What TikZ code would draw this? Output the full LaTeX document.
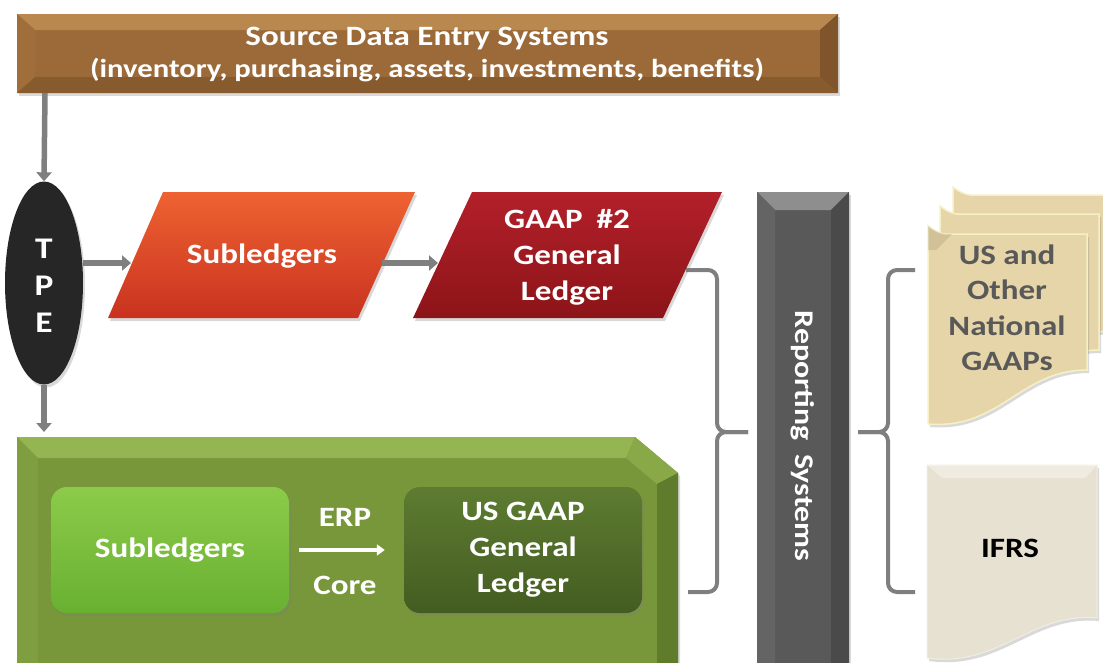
\documentclass[tikz,border=0pt]{standalone}
\usepackage{fontspec}
\setmainfont{Carlito}[FakeStretch=1.18]
\usetikzlibrary{shapes.geometric,arrows.meta,shadows}
\definecolor{brownface}{HTML}{9B6A38}
\definecolor{brownlight}{HTML}{B8884F}
\definecolor{browndark}{HTML}{7A5028}
\definecolor{orangetop}{HTML}{EE6232}
\definecolor{orangebot}{HTML}{C9331F}
\definecolor{redtop}{HTML}{B3202A}
\definecolor{redbot}{HTML}{8C1418}
\definecolor{barface}{HTML}{595959}
\definecolor{barlight}{HTML}{8E8E8E}
\definecolor{bardark}{HTML}{4A4A4A}
\definecolor{greenface}{HTML}{78963A}
\definecolor{greenlight}{HTML}{95B452}
\definecolor{greendark}{HTML}{5F7B2C}
\definecolor{lgtop}{HTML}{8CCB4A}
\definecolor{lgbot}{HTML}{69B031}
\definecolor{dgtop}{HTML}{5E7C31}
\definecolor{dgbot}{HTML}{435C21}
\definecolor{docface}{HTML}{E6D5A8}
\definecolor{docedge}{HTML}{F6F0C6}
\definecolor{ifrsface}{HTML}{E7E1D1}
\definecolor{arrowgray}{HTML}{7F7F7F}
\definecolor{doctext}{HTML}{595959}
\definecolor{tpeblack}{HTML}{262626}
\tikzset{
  conn/.style={draw=arrowgray, line width=5.5pt, -{Triangle[length=9pt,width=15pt]}},
  brk/.style={draw=arrowgray, line width=4pt, rounded corners=9pt},
  lbl/.style={text=white, font=\bfseries\fontsize{28}{36}\selectfont, align=center, inner sep=0pt},
  doclbl/.style={text=doctext, font=\bfseries\fontsize{28}{35.5}\selectfont, align=center, inner sep=0pt},
  shad/.style={drop shadow={opacity=0.3, shadow xshift=2pt, shadow yshift=-3pt}},
  ibox/.style={rounded corners=16pt, minimum width=238pt, minimum height=126pt, inner sep=0pt, text=white, font=\bfseries\fontsize{28}{36}\selectfont, align=center},
}
\begin{document}
\begin{tikzpicture}[x=1pt,y=-1pt]
\useasboundingbox (0,0) rectangle (1103,662);

% ---- top bar
\fill[brownface, shad] (17,14) rectangle (838,93);
\fill[brownlight] (17,14) -- (838,14) -- (820,30) -- (35,30) -- cycle;
\fill[brownface!85!brownlight] (17,14) -- (35,30) -- (35,77) -- (17,93) -- cycle;
\fill[browndark!80!brownface] (838,14) -- (838,93) -- (820,77) -- (820,30) -- cycle;
\fill[browndark!60!brownface] (17,93) -- (838,93) -- (820,77) -- (35,77) -- cycle;
\node[lbl, font=\bfseries\fontsize{28}{32}\selectfont] (src) at (427,55)
  {Source Data Entry Systems\\{\fontsize{26}{32}\selectfont(inventory, purchasing, assets, investments, benefits)}};
\coordinate (srcB) at (45,93);

% ---- TPE
\node[ellipse, fill=tpeblack, minimum width=78pt, minimum height=203pt, inner sep=0pt, shad] (tpe) at (44,283) {};
\node[lbl, font=\bfseries\fontsize{30}{37}\selectfont] (tpetxt) at (44,286) {T\\P\\E};

% ---- subledgers parallelogram
\shade[top color=orangetop, bottom color=orangebot, shad] (163,192) -- (415,192) -- (358,318) -- (108,318) -- cycle;
\node[lbl] (sub1) at (262,256) {Subledgers};
\coordinate (sub1L) at (131,263);
\coordinate (sub1R) at (382,263);

% ---- GAAP #2 parallelogram
\shade[top color=redtop, bottom color=redbot, shad] (472,192) -- (722,192) -- (663,318) -- (413,318) -- cycle;
\node[lbl] (gaap2) at (567,257) {GAAP\enspace\#2\\General\\Ledger};
\coordinate (gaapL) at (438,263);
\coordinate (gaapR) at (686,270);

% ---- reporting bar
\fill[barface, shad] (757,192) rectangle (849,670);
\fill[barlight] (757,192) -- (849,192) -- (831,210) -- (775,210) -- cycle;
\fill[barface!80!barlight] (757,192) -- (775,210) -- (775,670) -- (757,670) -- cycle;
\fill[bardark] (849,192) -- (849,670) -- (831,670) -- (831,210) -- cycle;
\node[lbl, rotate=-90, font=\bfseries\fontsize{27}{30}\selectfont] (rep) at (803,436) {Reporting\enspace Systems};
\coordinate (brL) at (748,432);
\coordinate (brR) at (858,432);

% ---- green ERP box
\fill[greenface, shad] (17,437) -- (635,437) -- (678,473) -- (678,670) -- (17,670) -- cycle;
\fill[greenlight] (17,437) -- (635,437) -- (626,458) -- (38,458) -- cycle;
\fill[greenlight!60!greenface] (635,437) -- (678,473) -- (657,484) -- (626,458) -- cycle;
\fill[greenface!75!greenlight] (17,437) -- (38,458) -- (38,670) -- (17,670) -- cycle;
\fill[greendark] (678,473) -- (678,670) -- (657,670) -- (657,484) -- cycle;
\node[ibox, top color=lgtop, bottom color=lgbot, shad] (sub2) at (170,550) {Subledgers};
\node[ibox, top color=dgtop, bottom color=dgbot, shad] (usg) at (523,550) {US GAAP\\General\\Ledger};
\node[lbl] (erp) at (345,517) {ERP};
\node[lbl] (core) at (345,585) {Core};
\draw[white, line width=3.5pt, -{Triangle[length=8pt,width=11pt]}, shorten <=10pt, shorten >=19pt] (sub2.east) -- (usg.west);
\coordinate (grnT) at (44,432);
\coordinate (grnR) at (688,592);

% ---- document stack
\foreach \dx/\dy in {25/-39, 12/-20} {
  \begin{scope}[shift={(\dx,\dy)}]
    \fill[docface, draw=docedge, line width=1.5pt, shad] (928,226) .. controls (936,232) and (942,235) .. (952,234) -- (1087,234) -- (1087,370) .. controls (1020,370) and (1000,430) .. (928,424) -- cycle;
  \end{scope}
}
\fill[docface, draw=docedge, line width=1.5pt, shad] (928,226) .. controls (936,232) and (942,235) .. (952,234) -- (1087,234) -- (1087,370) .. controls (1020,370) and (1000,430) .. (928,424) -- cycle;
\fill[docface!70!black, opacity=0.3] (928,226) .. controls (936,232) and (942,235) .. (952,234) -- (936,250) -- (928,250) -- cycle;
\node[doclbl] (usdoc) at (1007,308) {US and\\Other\\National\\GAAPs};
\coordinate (usdocL) at (915,270);

% ---- IFRS document
\fill[ifrsface, draw=ifrsface!60!white, line width=1pt, shad] (927,465) -- (1097,465) -- (1097,618) .. controls (1030,612) and (1000,668) .. (927,658) -- cycle;
\fill[white, opacity=0.35] (927,465) -- (1097,465) -- (1085,478) -- (942,478) -- cycle;
\node[lbl, text=black, font=\bfseries\fontsize{28}{30}\selectfont] (ifrs) at (1010,548) {IFRS};
\coordinate (ifrsL) at (915,592);

% ---- connectors
\draw[conn] (srcB) -- (tpe.north);
\draw[conn] (tpe.south) -- (grnT);
\draw[conn] (sub1L -| tpe.east) -- (sub1L);
\draw[conn] (sub1R) -- (gaapL);
\draw[brk] (gaapR) -- (717,270) -- (717,432) -- (brL);
\draw[brk] (grnR) -- (717,592) -- (717,432) -- (brL);
\draw[brk] (usdocL) -- (888,270) -- (888,432) -- (brR);
\draw[brk] (ifrsL) -- (888,592) -- (888,432) -- (brR);
\end{tikzpicture}
\end{document}
